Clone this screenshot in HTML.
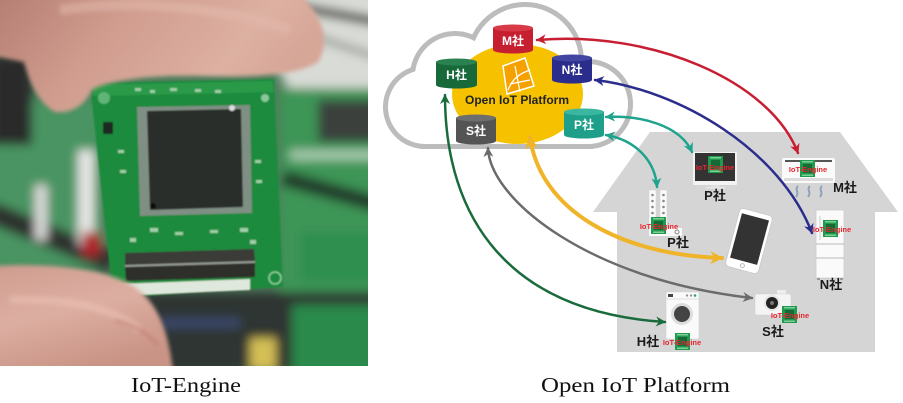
<!DOCTYPE html>
<html><head><meta charset="utf-8"><style>
html,body{margin:0;padding:0;background:#fff;}
svg{display:block;}
.lbl{font-family:"Liberation Sans","Noto Sans CJK JP",sans-serif;font-weight:bold;font-size:13px;fill:#1a1a1a;text-anchor:middle;}
.cyl{font-family:"Liberation Sans","Noto Sans CJK JP",sans-serif;font-weight:bold;font-size:12px;fill:#fff;text-anchor:middle;}
.ie{font-family:"Liberation Sans",sans-serif;font-weight:bold;font-size:7.5px;fill:#e8252f;text-anchor:middle;}
.cap{font-family:"Liberation Serif",serif;font-size:21px;fill:#111;}
</style></head><body>
<svg width="903" height="403" viewBox="0 0 903 403" xmlns="http://www.w3.org/2000/svg">
<defs>
 <clipPath id="pc"><rect x="0" y="0" width="368" height="366"/></clipPath>
 <filter id="b5" x="-20%" y="-20%" width="140%" height="140%"><feGaussianBlur stdDeviation="5"/></filter>
 <filter id="b2" x="-20%" y="-20%" width="140%" height="140%"><feGaussianBlur stdDeviation="2"/></filter>
 <filter id="b1"><feGaussianBlur stdDeviation="0.7"/></filter>
 <linearGradient id="skinT" x1="0" y1="0" x2="1" y2="0.3">
  <stop offset="0" stop-color="#b47e72"/><stop offset="0.4" stop-color="#d09c8e"/><stop offset="0.8" stop-color="#ddb0a2"/><stop offset="1" stop-color="#d6a697"/>
 </linearGradient>
 <linearGradient id="skinB" x1="0" y1="0" x2="0.4" y2="1">
  <stop offset="0" stop-color="#cf9d90"/><stop offset="0.5" stop-color="#dcaea1"/><stop offset="1" stop-color="#c99486"/>
 </linearGradient>
 <g id="mod"><rect width="15" height="17" fill="#1f9a4e"/><rect x="3" y="4" width="9" height="9" fill="#176a36"/><rect x="2" y="1" width="11" height="1.5" fill="#7ccf95"/><rect x="2" y="14.5" width="11" height="1.5" fill="#7ccf95"/></g>
 <marker id="mR" viewBox="0 0 10 10" refX="9" refY="5" markerWidth="10" markerHeight="10" markerUnits="userSpaceOnUse" orient="auto-start-reverse"><path d="M0,0 L10,5 L0,10 L3,5 z" fill="#c81e32"/></marker>
 <marker id="mN" viewBox="0 0 10 10" refX="9" refY="5" markerWidth="10" markerHeight="10" markerUnits="userSpaceOnUse" orient="auto-start-reverse"><path d="M0,0 L10,5 L0,10 L3,5 z" fill="#2b2d8c"/></marker>
 <marker id="mT" viewBox="0 0 10 10" refX="9" refY="5" markerWidth="10" markerHeight="10" markerUnits="userSpaceOnUse" orient="auto-start-reverse"><path d="M0,0 L10,5 L0,10 L3,5 z" fill="#1ea38c"/></marker>
 <marker id="mY" viewBox="0 0 10 10" refX="9" refY="5" markerWidth="13" markerHeight="13" markerUnits="userSpaceOnUse" orient="auto-start-reverse"><path d="M0,0 L10,5 L0,10 L3,5 z" fill="#f0b42a"/></marker>
 <marker id="mG" viewBox="0 0 10 10" refX="9" refY="5" markerWidth="10" markerHeight="10" markerUnits="userSpaceOnUse" orient="auto-start-reverse"><path d="M0,0 L10,5 L0,10 L3,5 z" fill="#6b6b6b"/></marker>
 <marker id="mH" viewBox="0 0 10 10" refX="9" refY="5" markerWidth="10" markerHeight="10" markerUnits="userSpaceOnUse" orient="auto-start-reverse"><path d="M0,0 L10,5 L0,10 L3,5 z" fill="#1a6b3c"/></marker>
</defs>

<!-- ================= PHOTO ================= -->
<g clip-path="url(#pc)">
 <rect width="368" height="366" fill="#4f7d5c"/>
 <g filter="url(#b5)">
  <path d="M225,-10 L380,-10 L380,100 L292,95 L272,60 Z" fill="#d9dbd6"/>
  <path d="M235,-4 L380,22" stroke="#2a2a2a" stroke-width="9"/>
  <path d="M300,32 L380,58" stroke="#7a7e7a" stroke-width="5"/>
  <rect x="280" y="88" width="100" height="290" fill="#3c9557"/>
  <rect x="318" y="100" width="62" height="42" fill="#3b403d"/>
  <rect x="290" y="150" width="90" height="10" fill="#a8cbb0"/>
  <path d="M283,178 L380,205" stroke="#243b2c" stroke-width="16"/>
  <rect x="300" y="232" width="80" height="50" fill="#2f8f4f"/>
  <path d="M288,300 L380,332" stroke="#7fb890" stroke-width="6"/>
  <rect x="-10" y="100" width="112" height="170" fill="#4a9462"/>
  <rect x="-10" y="55" width="42" height="90" fill="#2a2c2b"/>
  <path d="M-10,212 L112,262" stroke="#2e302f" stroke-width="22"/>
  <rect x="78" y="150" width="16" height="95" fill="#e6e6e4"/>
  <rect x="82" y="232" width="18" height="24" fill="#b0202c"/>
  <rect x="35" y="185" width="12" height="55" fill="#dcdcda"/>
  <rect x="140" y="292" width="240" height="80" fill="#2e3431"/>
  <rect x="250" y="338" width="26" height="32" fill="#d4bf55"/>
  <rect x="292" y="305" width="90" height="70" fill="#2c8a4c"/>
  <rect x="160" y="318" width="80" height="10" fill="#3a4a6a"/>
 </g>
 <!-- PCB -->
 <g filter="url(#b1)">
  <polygon points="90,83 274,79 283,287 113,298" fill="#1f8b3d"/>
  <polygon points="92,85 272,81 274,92 94,96" fill="#2a9a48"/>
  <circle cx="104" cy="98" r="6" fill="#5fb575"/>
  <circle cx="265" cy="98" r="4" fill="#8ac79a"/>
  <rect x="103" y="122" width="10" height="12" fill="#1a2a20"/>
  <g fill="#9fcfa8">
   <rect x="135" y="88" width="6" height="3"/><rect x="150" y="90" width="5" height="3"/><rect x="170" y="88" width="7" height="3"/><rect x="195" y="89" width="6" height="3"/><rect x="215" y="90" width="6" height="3"/>
   <rect x="118" y="150" width="6" height="3"/><rect x="120" y="170" width="6" height="3"/><rect x="255" y="160" width="6" height="3"/><rect x="256" y="180" width="6" height="3"/>
   <rect x="150" y="228" width="8" height="4"/><rect x="175" y="232" width="8" height="3"/><rect x="210" y="230" width="8" height="3"/><rect x="240" y="228" width="8" height="4"/><rect x="130" y="238" width="6" height="4"/><rect x="250" y="240" width="6" height="4"/>
  </g>
  <polygon points="137,107 250,105 252,213 140,216" fill="#7f8f84"/>
  <polygon points="147,111 241,109 243,207 150,210" fill="#2a2d2c"/>
  <circle cx="153" cy="206" r="3" fill="#111"/>
  <circle cx="232" cy="108" r="3" fill="#ddd"/>
  <polygon points="125,253 254,249 255,261 125,265" fill="#3a3a38"/>
  <polygon points="125,267 255,263 255,277 126,281" fill="#2e2e2c"/>
  <polygon points="125,265 255,261 255,263 125,267" fill="#9a9a94"/>
  <polygon points="117,284 250,279 250,290 117,296" fill="#dfe8dc"/>
  <circle cx="275" cy="278" r="6" fill="none" stroke="#8fcf9f" stroke-width="1.5"/>
 </g>
 <!-- fingers -->
 <g filter="url(#b2)">
  <path d="M-5,-5 L300,-5 C320,12 332,40 318,62 C300,74 260,78 200,76 C150,75 110,80 92,90 C86,104 72,114 55,112 C40,104 30,85 24,62 L-5,56 Z" fill="url(#skinT)"/>
  <path d="M60,10 C120,0 220,5 290,30" stroke="#e4bcae" stroke-width="10" fill="none" opacity="0.5"/>
  <path d="M-5,266 C40,263 100,267 130,284 C155,299 168,325 173,372 L-5,372 Z" fill="url(#skinB)"/>
  <path d="M10,300 C60,298 110,305 140,330" stroke="#e9c0b2" stroke-width="8" fill="none" opacity="0.6"/>
  <path d="M115,320 C135,325 150,335 158,345" stroke="#c0786a" stroke-width="2" fill="none"/>
 </g>
</g>

<!-- ================= HOUSE ================= -->
<polygon points="593,212 650,132 840,132 898,212 875,212 875,352 617,352 617,212" fill="#d5d5d5"/>

<!-- ================= CLOUD ================= -->
<g stroke="#bcbcbc" stroke-width="10" fill="#bcbcbc">
 <circle cx="425" cy="107" r="37"/>
 <circle cx="455" cy="76" r="40"/>
 <circle cx="525" cy="61" r="54"/>
 <circle cx="588" cy="104" r="40"/>
 <rect x="425" y="75" width="163" height="69"/>
</g>
<g fill="#fff">
 <circle cx="425" cy="107" r="37"/>
 <circle cx="455" cy="76" r="40"/>
 <circle cx="525" cy="61" r="54"/>
 <circle cx="588" cy="104" r="40"/>
 <rect x="425" y="75" width="163" height="69"/>
</g>
<ellipse cx="517.5" cy="94" rx="65.5" ry="50" fill="#f6c200"/>
<!-- logo -->
<polygon points="503,66 525,58 534,86 507,94" fill="#f5a100" stroke="#fff" stroke-width="1.5"/>
<path d="M508,90 C512,80 518,74 530,70 M510,84 L530,80 M515,66 L520,92" stroke="#fff" stroke-width="1.2" fill="none"/>
<text x="517" y="104" font-family="Liberation Sans, sans-serif" font-weight="bold" font-size="12" fill="#222" text-anchor="middle">Open IoT Platform</text>

<!-- cylinders -->
<g>
 <rect x="493" y="28" width="40" height="22" fill="#c51f30"/><ellipse cx="513" cy="50" rx="20" ry="3.5" fill="#c51f30"/><ellipse cx="513" cy="28" rx="20" ry="3.5" fill="#d83a48"/>
 <text class="cyl" x="513" y="45">M社</text>
 <rect x="436" y="62" width="41" height="23" fill="#17693a"/><ellipse cx="456.5" cy="85" rx="20.5" ry="3.5" fill="#17693a"/><ellipse cx="456.5" cy="62" rx="20.5" ry="3.5" fill="#2a8250"/>
 <text class="cyl" x="456.5" y="79">H社</text>
 <rect x="552" y="58" width="40" height="22" fill="#2b2d8c"/><ellipse cx="572" cy="80" rx="20" ry="3.5" fill="#2b2d8c"/><ellipse cx="572" cy="58" rx="20" ry="3.5" fill="#4345a3"/>
 <text class="cyl" x="572" y="74">N社</text>
 <rect x="564" y="112" width="40" height="23" fill="#1d9f89"/><ellipse cx="584" cy="135" rx="20" ry="3.5" fill="#1d9f89"/><ellipse cx="584" cy="112" rx="20" ry="3.5" fill="#3bb6a0"/>
 <text class="cyl" x="584" y="129">P社</text>
 <rect x="456" y="118" width="40" height="23" fill="#545454"/><ellipse cx="476" cy="141" rx="20" ry="3.5" fill="#545454"/><ellipse cx="476" cy="118" rx="20" ry="3.5" fill="#6e6e6e"/>
 <text class="cyl" x="476" y="135">S社</text>
</g>

<!-- ================= DEVICES ================= -->
<!-- TV -->
<rect x="693" y="152" width="44" height="33" rx="1" fill="#f2f2f2"/>
<rect x="695" y="153" width="40" height="28" fill="#333"/>
<rect x="711" y="185" width="9" height="2" fill="#e0e0e0"/>
<rect x="706" y="187" width="19" height="1.5" fill="#e8e8e8"/>
<use href="#mod" x="708" y="156"/>
<text class="ie" x="715" y="170">IoT-Engine</text>
<text class="lbl" x="715" y="200">P社</text>

<!-- AC -->
<rect x="782" y="158" width="53" height="25" rx="2" fill="#fafafa"/>
<rect x="785" y="160" width="47" height="2" fill="#555"/>
<rect x="784" y="178" width="49" height="3" fill="#dcdcdc"/>
<use href="#mod" x="800" y="160"/>
<text class="ie" x="808" y="172">IoT-Engine</text>
<g stroke="#8ea2bb" stroke-width="2" fill="none">
 <path d="M798,186 C794,189 800,192 796,197"/>
 <path d="M810,186 C806,189 812,192 808,197"/>
 <path d="M822,186 C818,189 824,192 820,197"/>
</g>
<text class="lbl" x="845" y="192">M社</text>

<!-- switch -->
<rect x="649" y="190" width="7" height="46" rx="1" fill="#fafafa" stroke="#cfcfcf" stroke-width="0.5"/>
<rect x="660" y="190" width="7" height="46" rx="1" fill="#fafafa" stroke="#cfcfcf" stroke-width="0.5"/>
<g fill="#888"><circle cx="652.5" cy="195" r="1.3"/><circle cx="652.5" cy="201" r="1.3"/><circle cx="652.5" cy="207" r="1.3"/><circle cx="652.5" cy="213" r="1.3"/>
<circle cx="663.5" cy="195" r="1.3"/><circle cx="663.5" cy="201" r="1.3"/><circle cx="663.5" cy="207" r="1.3"/><circle cx="663.5" cy="213" r="1.3"/></g>
<rect x="649" y="228" width="33" height="8" fill="#fafafa"/>
<circle cx="677" cy="232" r="2" fill="none" stroke="#888"/>
<use href="#mod" x="651" y="217"/>
<text class="ie" x="659" y="229">IoT-Engine</text>
<text class="lbl" x="678" y="247">P社</text>

<!-- phone -->
<g transform="rotate(15 749 241)">
 <rect x="732" y="211" width="34" height="60" rx="4" fill="#fff" stroke="#c8c8c8" stroke-width="0.8"/>
 <rect x="735" y="216" width="28" height="46" fill="#333"/>
 <circle cx="749" cy="266.5" r="2" fill="none" stroke="#bbb"/>
</g>

<!-- fridge -->
<rect x="816" y="210" width="28" height="68" rx="1" fill="#fafafa" stroke="#cccccc" stroke-width="0.8"/>
<line x1="816" y1="244" x2="844" y2="244" stroke="#bbb"/>
<line x1="816" y1="258" x2="844" y2="258" stroke="#bbb"/>
<line x1="820" y1="216" x2="820" y2="240" stroke="#ccc"/>
<rect x="817" y="278" width="3" height="2" fill="#999"/><rect x="840" y="278" width="3" height="2" fill="#999"/>
<use href="#mod" x="823" y="220"/>
<text class="ie" x="832" y="232">IoT-Engine</text>
<text class="lbl" x="831" y="289">N社</text>

<!-- camera -->
<rect x="777" y="290" width="9" height="5" rx="1" fill="#eee"/>
<rect x="755" y="294" width="36" height="21" rx="2" fill="#f4f4f4" stroke="#d0d0d0" stroke-width="0.6"/>
<circle cx="772" cy="303" r="8" fill="#e6e6e6"/>
<circle cx="772" cy="303" r="6" fill="#222"/>
<circle cx="772" cy="303" r="2" fill="#777"/>
<use href="#mod" x="782" y="306"/>
<text class="ie" x="790" y="318">IoT-Engine</text>
<text class="lbl" x="773" y="336">S社</text>

<!-- washer -->
<rect x="666" y="292" width="33" height="47" rx="1" fill="#fafafa" stroke="#d0d0d0" stroke-width="0.6"/>
<line x1="666" y1="299" x2="699" y2="299" stroke="#ddd"/>
<rect x="668" y="294" width="5" height="3" fill="#444"/>
<circle cx="687" cy="295.5" r="1.2" fill="#999"/><circle cx="691" cy="295.5" r="1.2" fill="#999"/><circle cx="695" cy="295.5" r="1.3" fill="#2a9a8a"/>
<circle cx="682" cy="314" r="11" fill="#ddd"/>
<circle cx="682" cy="314" r="8" fill="#444"/>
<use href="#mod" x="675" y="333"/>
<text class="ie" x="682" y="345">IoT-Engine</text>
<text class="lbl" x="648" y="346">H社</text>

<!-- ================= ARROWS ================= -->
<g fill="none" stroke-linecap="round">
 <path d="M537,40 C650,30 770,80 798,153" stroke="#c81e32" stroke-width="2.5" marker-start="url(#mR)" marker-end="url(#mR)"/>
 <path d="M595,80 C680,90 780,150 812,233" stroke="#2b2d8c" stroke-width="2.5" marker-start="url(#mN)" marker-end="url(#mN)"/>
 <path d="M606,117 C640,115 680,125 692,152" stroke="#1ea38c" stroke-width="2.5" marker-start="url(#mT)" marker-end="url(#mT)"/>
 <path d="M606,135 C635,140 655,160 657,187" stroke="#1ea38c" stroke-width="2.5" marker-start="url(#mT)" marker-end="url(#mT)"/>
 <path d="M530,137 C540,210 620,255 722,258" stroke="#f0b42a" stroke-width="4" marker-start="url(#mY)" marker-end="url(#mY)"/>
 <path d="M488,148 C490,200 590,280 752,298" stroke="#6b6b6b" stroke-width="2.5" marker-start="url(#mG)" marker-end="url(#mG)"/>
 <path d="M445,95 C445,220 510,312 665,322" stroke="#1a6b3c" stroke-width="2.5" marker-start="url(#mH)" marker-end="url(#mH)"/>
</g>

<!-- ================= CAPTIONS ================= -->
<text class="cap" x="131" y="392" textLength="110" lengthAdjust="spacingAndGlyphs">IoT-Engine</text>
<text class="cap" x="541" y="392" textLength="189" lengthAdjust="spacingAndGlyphs">Open IoT Platform</text>
</svg>
</body></html>
